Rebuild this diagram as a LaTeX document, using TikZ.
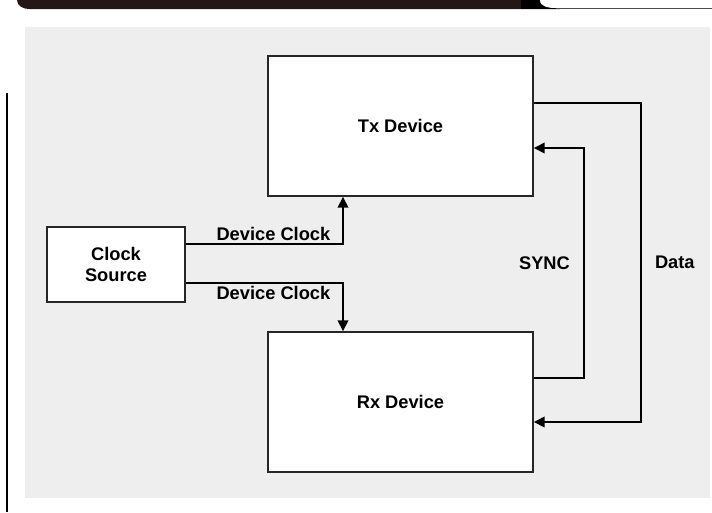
\documentclass[tikz,border=0pt]{standalone}
\usepackage{fontspec}
\setmainfont{Liberation Sans}
\usetikzlibrary{arrows.meta,calc}
\definecolor{bannerbrown}{HTML}{231815}
\definecolor{panelgray}{HTML}{EEEEEE}
\begin{document}
\begin{tikzpicture}[x=0.75pt,y=-0.75pt,
  blockbox/.style={draw=black!85,line width=1.4pt,fill=white,inner sep=0pt,
    font=\fontsize{13.7}{15.8}\selectfont\bfseries,align=center},
  wire/.style={line width=1.1pt},
  lbl/.style={font=\fontsize{13.7}{15.8}\selectfont\bfseries,inner sep=2pt},
  tip/.style={-{Triangle[length=8pt,width=8pt]}}]
\useasboundingbox (0,0) rectangle (712,512);
% header strip
\fill[bannerbrown] (17,-10) -- (17,0) to[out=-90,in=180] (29,9) -- (560,9) -- (560,-10) -- cycle;
\fill[black] (521,-10) rectangle (560,9);
\fill[white] (540,-10) -- (540,0) to[out=-90,in=180] (556,8) -- (712,8) -- (712,-10) -- cycle;
\draw[black!70,line width=1.2pt] (556,8.5) -- (712,8.5);
\draw[line width=1.5pt] (7,93) -- (7,512);
% panel
\fill[panelgray] (25,27) rectangle (710,498);
% blocks
\node[blockbox,minimum width=265*0.75pt,minimum height=140*0.75pt] (tx) at (400.5,126) {Tx Device};
\node[blockbox,minimum width=265*0.75pt,minimum height=140*0.75pt] (rx) at (400.5,402) {Rx Device};
\node[blockbox,minimum width=138*0.75pt,minimum height=75*0.75pt] (clk) at (116,264.5) {Clock\\Source};
% clocks
\draw[wire,tip] ($(clk.east)+(0,-20.5)$) -| ($(tx.south)+(-57.5,0)$)
  node[lbl,pos=0.5,anchor=south east,xshift=-7pt] {Device Clock};
\draw[wire,tip] ($(clk.east)+(0,18.5)$) -| ($(rx.north)+(-57.5,0)$)
  node[lbl,pos=0.5,anchor=north east,xshift=-7pt] {Device Clock};
% sync and data
\draw[wire,tip] ($(rx.east)+(0,-24)$) -- ++(50,0) |- ($(tx.east)+(0,22)$)
  node[lbl,pos=0.25,left=8pt] {SYNC};
\draw[wire,tip] ($(tx.east)+(0,-23)$) -- ++(107,0) |- ($(rx.east)+(0,20)$)
  node[lbl,pos=0.25,right=8pt] {Data};
\end{tikzpicture}
\end{document}
